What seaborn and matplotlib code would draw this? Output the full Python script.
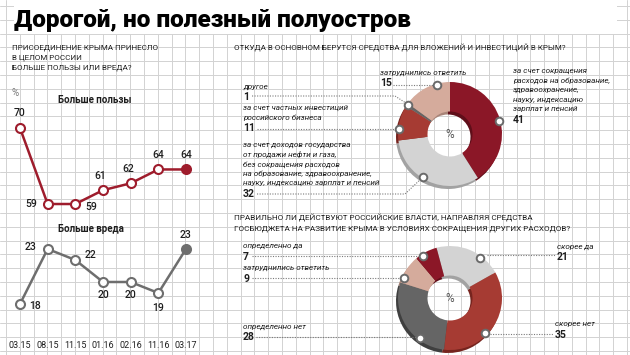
import numpy as np
import pandas as pd
import matplotlib
matplotlib.use("Agg")
import matplotlib.pyplot as plt
import seaborn as sns
from matplotlib.patches import Rectangle

# ---------------- data ----------------
periods = ["03.15", "08.15", "11.15", "01.16", "02.16", "11.16", "03.17"]
benefit = [70, 59, 59, 61, 62, 64, 64]
harm = [18, 23, 22, 20, 20, 19, 23]

source_values = [41, 32, 11, 1, 15]
source_labels = [
    "за счет сокращения\nрасходов на образование,\nздравоохранение,\nнауку, индексацию\nзарплат и пенсий",
    "за счет доходов государства\nот продажи нефти и газа,\nбез сокращения расходов\nна образование, здравоохранение,\nнауку, индексацию зарплат и пенсий",
    "за счет частных инвестиций\nроссийского бизнеса",
    "другое",
    "затруднились ответить",
]
policy_values = [21, 35, 28, 9, 7]
policy_labels = ["скорее да", "скорее нет", "определенно нет", "затруднились ответить", "определенно да"]

title = "Дорогой, но полезный полуостров"
q_left = "ПРИСОЕДИНЕНИЕ КРЫМА ПРИНЕСЛО\nВ ЦЕЛОМ РОССИИ\nБОЛЬШЕ ПОЛЬЗЫ ИЛИ ВРЕДА?"
q_top = "ОТКУДА В ОСНОВНОМ БЕРУТСЯ СРЕДСТВА ДЛЯ ВЛОЖЕНИЙ И ИНВЕСТИЦИЙ В КРЫМ?"
q_bottom = "ПРАВИЛЬНО ЛИ ДЕЙСТВУЮТ РОССИЙСКИЕ ВЛАСТИ, НАПРАВЛЯЯ СРЕДСТВА\nГОСБЮДЖЕТА НА РАЗВИТИЕ КРЫМА В УСЛОВИЯХ СОКРАЩЕНИЯ ДРУГИХ РАСХОДОВ?"
benefit_name = "Больше пользы"
harm_name = "Больше вреда"

# ---------------- style ----------------
sns.set_theme(style="white")
plt.rcParams["font.family"] = ["Roboto", "DejaVu Sans"]
NARROW = ["Liberation Sans Narrow", "Roboto", "DejaVu Sans"]

W, H = 630, 355
RED = "#9e1c2c"
GRAY = "#6e6e6e"
C_DARKRED, C_RED, C_LGRAY, C_DGRAY, C_PINK = "#8b1727", "#a63b33", "#d3d3d3", "#656565", "#d5ab9c"
SHADOW = {C_DARKRED: "#5f0e19", C_RED: "#76241e", C_LGRAY: "#a2a2a2", C_DGRAY: "#3f3f3f", C_PINK: "#a88478"}
TXT = "#1e1e1e"

fig = plt.figure(figsize=(6.3, 3.55), dpi=100)
fig.patch.set_facecolor("white")


def Y(p):
    return H - p


def rect(x0, y0, x1, y1):
    return [x0 / W, 1 - y1 / H, (x1 - x0) / W, (y1 - y0) / H]


# ---------------- background / overlay axes ----------------
ov = fig.add_axes([0, 0, 1, 1])
ov.set_facecolor("white")
for gx in np.arange(6, W, 13.8):
    ov.plot([gx, gx], [0, H], color="#d2d2d2", lw=0.7, zorder=0)
for gy in np.arange(6, H, 13.8):
    ov.plot([0, W], [Y(gy), Y(gy)], color="#d2d2d2", lw=0.7, zorder=0)
ov.add_patch(Rectangle((14, Y(34)), 603, 34, facecolor="white", edgecolor="none", zorder=0.5))
ov.text(14, Y(27), title, fontsize=17.6, fontweight="black", color="black", va="baseline", ha="left", zorder=6)


def lines_text(x, y, text, step, size):
    for i, ln in enumerate(text.split("\n")):
        ov.text(x, Y(y + i * step), ln, fontsize=size, family=NARROW, color=TXT,
                va="center", ha="left", zorder=6)


# questions
lines_text(12, 48, q_left, 10, 5.8)
lines_text(234, 48, q_top, 10, 5.8)
lines_text(234, 218, q_bottom, 11, 5.9)

ov.text(12, Y(93), "%", fontsize=7, color="#777777", va="center", ha="left", zorder=6)
ov.text(58, Y(100), benefit_name, fontsize=7, fontweight="bold", color=TXT, va="center", ha="left", zorder=6)
ov.text(58, Y(229), harm_name, fontsize=7, fontweight="bold", color=TXT, va="center", ha="left", zorder=6)


# ---------------- donuts ----------------
def donut(values, colors, center, start):
    cx, cy = center
    ov.pie(values, colors=[SHADOW[c] for c in colors], startangle=start, counterclock=False,
           radius=52, center=(cx - 2, Y(cy) - 3), frame=False,
           wedgeprops=dict(width=29.5, linewidth=0, zorder=1))
    ov.pie(values, colors=colors, startangle=start, counterclock=False,
           radius=52, center=(cx, Y(cy)), frame=False,
           wedgeprops=dict(width=29.5, linewidth=0, zorder=2))
    ov.text(cx, Y(cy), "%", fontsize=8.5, color="#555555", ha="center", va="center", zorder=6)


def marker(center, ang, r=51):
    cx, cy = center
    a = np.deg2rad(ang)
    ov.scatter([cx + r * np.cos(a)], [Y(cy) + r * np.sin(a)], s=30, facecolor="white",
               edgecolor="#6a6a6a", linewidth=1.4, zorder=5)


def leader(pts):
    xs = [p[0] for p in pts]
    ys = [Y(p[1]) for p in pts]
    ov.plot(xs, ys, color="#7a7a7a", lw=0.8, ls=(0, (1, 1.3)), zorder=3)


def label_block(x, y, text, value, step=9.6):
    lines = text.split("\n")
    for i, ln in enumerate(lines):
        ov.text(x, Y(y + i * step), ln, fontsize=5.9, family=NARROW, style="italic", color=TXT,
                ha="left", va="center", zorder=6)
    ov.text(x, Y(y + (len(lines) - 1) * step + 10.5), str(value), fontsize=7.5,
            fontweight="bold", color=TXT, ha="left", va="center", zorder=6)


top_c = (450, 134)
bot_c = (450, 298)
donut(source_values, [C_DARKRED, C_LGRAY, C_RED, C_DGRAY, C_PINK], top_c, 90)
donut(policy_values, [C_LGRAY, C_RED, C_DGRAY, C_PINK, C_DARKRED], bot_c, 105)

# top donut annotations
top_pos = [(513, 71), (243, 145), (243, 108), (243, 87), (380, 73)]
top_ang = [15, 238, 174, 145, 105]
top_lead = [None,
            [(257, 194), (405, 194), (423, 177)],
            [(257, 129), (401, 129)],
            [(252, 96), (395, 96), (409, 105)],
            [(393, 85), (437, 85)]]
for lab, val, pos, ang, ld in zip(source_labels, source_values, top_pos, top_ang, top_lead):
    if ld:
        leader(ld)
    marker(top_c, ang)
    label_block(pos[0], pos[1], lab, val)

# bottom donut annotations
bot_pos = [(557, 247), (555, 324), (243, 327), (243, 268), (243, 246)]
bot_ang = [53, 315, 233, 157, 123]
bot_lead = [[(487, 255), (555, 255)],
            [(490, 334), (553, 334)],
            [(256, 337), (420, 337)],
            [(252, 278), (400, 278)],
            [(252, 256), (418, 256)]]
for lab, val, pos, ang, ld in zip(policy_labels, policy_values, bot_pos, bot_ang, bot_lead):
    leader(ld)
    marker(bot_c, ang, r=50)
    label_block(pos[0], pos[1], lab, val, step=9)

ov.set_xlim(0, W)
ov.set_ylim(0, H)
ov.set_aspect("auto")
ov.axis("off")

# ---------------- line charts ----------------
idx = np.arange(len(periods))
df = pd.DataFrame({"i": idx, "period": periods, "benefit": benefit, "harm": harm})


def line_panel(ax, col, color, offsets):
    sns.lineplot(data=df, x="i", y=col, ax=ax, color=color, lw=1.8, zorder=2)
    sns.scatterplot(data=df.iloc[:-1], x="i", y=col, ax=ax, s=42, facecolor="white",
                    edgecolor=color, linewidth=1.5, zorder=3)
    sns.scatterplot(data=df.iloc[-1:], x="i", y=col, ax=ax, s=42, color=color,
                    edgecolor=color, linewidth=1.5, zorder=3)
    for (i, v), (dx, dy, ha) in zip(enumerate(df[col]), offsets):
        ax.annotate(str(v), (i, v), xytext=(dx, dy), textcoords="offset pixels",
                    ha=ha, va="center", fontsize=7.5, fontweight="medium", color=TXT, zorder=4)
    ax.set_facecolor("none")
    for s in ax.spines.values():
        s.set_visible(False)
    ax.set_xlabel("")
    ax.set_ylabel("")
    ax.set_yticks([])
    ax.set_xlim(-0.361, 6.361)


ax1 = fig.add_axes(rect(10, 100, 196, 215))
line_panel(ax1, "benefit", RED,
           [(0, 15, "center"), (-10, 0, "right"), (16, -3, "center"), (-3, 14, "center"),
            (-2, 14, "center"), (0, 14, "center"), (0, 14, "center")])
ax1.set_ylim(57.41, 74.05)
ax1.set_xticks([])

ax2 = fig.add_axes(rect(10, 235, 196, 340))
line_panel(ax2, "harm", GRAY,
           [(15, -2, "center"), (-17, 2, "center"), (15, 5, "center"), (0, -13, "center"),
            (0, -13, "center"), (0, -15, "center"), (0, 14, "center")])
ax2.set_ylim(14.73, 24.27)
ax2.set_xticks(idx)
ax2.set_xticklabels(periods, family=NARROW, fontsize=6.5, color=TXT)
ax2.tick_params(axis="x", length=0, pad=0.5)

fig.savefig("out.png", dpi=100, facecolor="white")
